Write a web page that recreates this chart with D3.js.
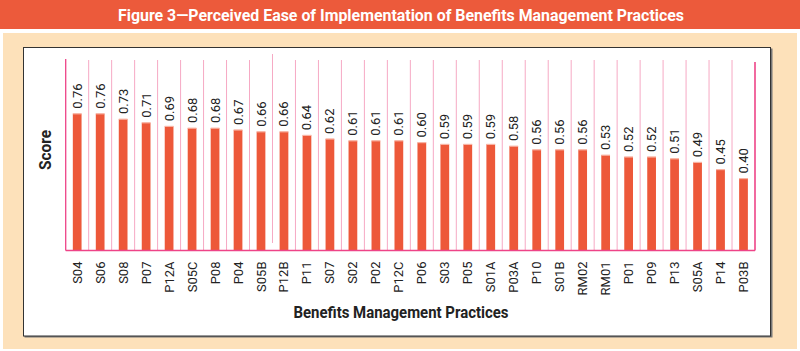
<!DOCTYPE html>
<html>
<head>
<meta charset="utf-8">
<script src="https://cdn.jsdelivr.net/npm/d3@7"></script>
<style>
  body { margin: 0; background: #fff; }
  text { font-family: Roboto, "Liberation Sans", sans-serif; }
</style>
</head>
<body>
<div id="canvas"></div>
<script>
"use strict";

// Data
let practices = ["S04","S06","S08","P07","P12A","S05C","P08","P04","S05B","P12B",
  "P11","S07","S02","P02","P12C","P06","S03","P05","S01A","P03A",
  "P10","S01B","RM02","RM01","P01","P09","P13","S05A","P14","P03B"];
let scores = [0.76,0.76,0.73,0.71,0.69,0.68,0.68,0.67,0.66,0.66,
  0.64,0.62,0.61,0.61,0.61,0.60,0.59,0.59,0.59,0.58,
  0.56,0.56,0.56,0.53,0.52,0.52,0.51,0.49,0.45,0.40];

let titleText = "Figure 3\u2014Perceived Ease of Implementation of Benefits Management Practices";

// Canvas
let svgWidth = 800;
let svgHeight = 351;
let plot = { left: 65.7, right: 755, top: 60, bottom: 250.5 };

let svg = d3.select("#canvas")
  .append("svg")
  .attr("width", svgWidth)
  .attr("height", svgHeight)
  .style("display", "block");

// Title bar
svg.append("rect")
  .attr("x", 0).attr("y", 0)
  .attr("width", svgWidth).attr("height", 29)
  .attr("fill", "#ec5a3b");
svg.append("text")
  .attr("x", 401).attr("y", 20.5)
  .attr("text-anchor", "middle")
  .attr("fill", "#fff")
  .style("font-size", "17px")
  .style("font-weight", "700")
  .attr("textLength", 566)
  .attr("lengthAdjust", "spacingAndGlyphs")
  .text(titleText);

// Beige frame + white panel
svg.append("rect")
  .attr("x", 3).attr("y", 33)
  .attr("width", 794).attr("height", 316)
  .attr("fill", "#fde1ba");
svg.append("rect")
  .attr("x", 24.5).attr("y", 48.5)
  .attr("width", 748).attr("height", 289)
  .attr("fill", "#777");
svg.append("rect")
  .attr("x", 23.5).attr("y", 47.5)
  .attr("width", 747).attr("height", 288.5)
  .attr("fill", "#fff")
  .attr("stroke", "#333")
  .attr("stroke-width", 1);

// Scales
let xScale = d3.scaleBand()
  .domain(practices)
  .range([plot.left, plot.right])
  .paddingInner(0.62)
  .paddingOuter(0.31);
let yScale = d3.scaleLinear().domain([0, 1]).range([plot.bottom, plot.bottom - 180]);
let step = xScale.step();

// Category separators
let g = svg.append("g");
g.selectAll("line.grid")
  .data(practices.slice(1))
  .enter()
  .append("line")
  .attr("class", "grid")
  .attr("x1", function(d){ return xScale(d) - xScale.bandwidth() * 0.5 - (step - xScale.bandwidth()) / 2 + xScale.bandwidth() / 2; })
  .attr("x2", function(d){ return xScale(d) - xScale.bandwidth() * 0.5 - (step - xScale.bandwidth()) / 2 + xScale.bandwidth() / 2; })
  .attr("y1", function(d){ return d == "P12B" ? 54 : plot.top; })
  .attr("y2", function(d){ return d == "P12B" ? 243 : plot.bottom; })
  .attr("stroke", "#f6a9c4")
  .attr("stroke-width", 1);

// Axis frame lines
g.append("line")
  .attr("x1", plot.left).attr("x2", plot.left)
  .attr("y1", 59).attr("y2", plot.bottom)
  .attr("stroke", "#ee4488").attr("stroke-width", 1.3);
g.append("line")
  .attr("x1", plot.right).attr("x2", plot.right)
  .attr("y1", 62).attr("y2", plot.bottom)
  .attr("stroke", "#ee4488").attr("stroke-width", 1.6);

// Bars
g.selectAll("rect.bar")
  .data(practices)
  .enter()
  .append("rect")
  .attr("class", "bar")
  .attr("x", function(d){ return xScale(d); })
  .attr("y", function(d, i){ return yScale(scores[i]); })
  .attr("width", xScale.bandwidth())
  .attr("height", function(d, i){ return yScale(0) - yScale(scores[i]); })
  .attr("fill", "#ed5839");
// light top edge on each bar
g.selectAll("rect.cap")
  .data(practices)
  .enter()
  .append("rect")
  .attr("class", "cap")
  .attr("x", function(d){ return xScale(d); })
  .attr("y", function(d, i){ return yScale(scores[i]) - 0.5; })
  .attr("width", xScale.bandwidth())
  .attr("height", 1.2)
  .attr("fill", "#f8b3a3");

// baseline
g.append("line")
  .attr("x1", plot.left).attr("x2", plot.right)
  .attr("y1", plot.bottom).attr("y2", plot.bottom)
  .attr("stroke", "#ee4488").attr("stroke-width", 1.6);

// Value labels
g.selectAll("text.val")
  .data(practices)
  .enter()
  .append("text")
  .attr("class", "val")
  .attr("transform", function(d, i){
    let x = xScale(d) + xScale.bandwidth() / 2 + 4.5;
    let y = yScale(scores[i]) - 5;
    return "translate(" + x + "," + y + ") rotate(-90)";
  })
  .attr("fill", "#222")
  .style("font-size", "13px")
  .text(function(d, i){ return scores[i].toFixed(2); });

// Category labels
g.selectAll("text.cat")
  .data(practices)
  .enter()
  .append("text")
  .attr("class", "cat")
  .attr("transform", function(d){
    let x = xScale(d) + xScale.bandwidth() / 2 + 4.5;
    return "translate(" + x + "," + 261.5 + ") rotate(-90)";
  })
  .attr("text-anchor", "end")
  .attr("fill", "#222")
  .style("font-size", "13px")
  .text(function(d){ return d; });

// Axis titles
svg.append("text")
  .attr("x", 401).attr("y", 318)
  .attr("text-anchor", "middle")
  .attr("fill", "#222")
  .style("font-size", "16px")
  .style("font-weight", "700")
  .attr("textLength", 215)
  .attr("lengthAdjust", "spacingAndGlyphs")
  .text("Benefits Management Practices");
svg.append("text")
  .attr("transform", "translate(51,150) rotate(-90)")
  .attr("text-anchor", "middle")
  .attr("fill", "#222")
  .style("font-size", "16px")
  .style("font-weight", "700")
  .attr("textLength", 40)
  .attr("lengthAdjust", "spacingAndGlyphs")
  .text("Score");
</script>
</body>
</html>
